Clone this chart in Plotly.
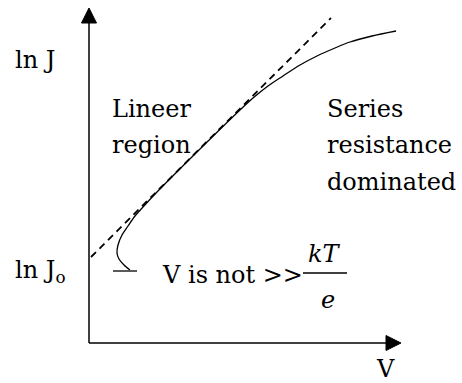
import plotly.graph_objects as go

# Measured J-V characteristic on a ln J vs V plot (arbitrary units)
v_curve = [0.41, 0.35, 0.30, 0.28, 0.29, 0.33, 0.39, 0.46, 0.54, 0.68, 1.11,
           1.51, 1.64, 1.79, 1.94, 2.11, 2.28, 2.46, 2.61, 2.83, 3.07]
lnj_curve = [0.73, 0.78, 0.84, 0.90, 0.98, 1.08, 1.17, 1.27, 1.36, 1.51, 1.94,
             2.33, 2.45, 2.57, 2.67, 2.78, 2.87, 2.95, 3.01, 3.07, 3.12]

# Ideal diode line, extrapolated to V = 0 (intercept ln J0)
v_fit = [0.02, 2.42]
lnj_fit = [0.86, 3.25]

# Short bar marking the low-voltage end of the curve
v_bar = [0.24, 0.48]
lnj_bar = [0.72, 0.72]

# Axis extents
v_max = 3.12
lnj_max = 3.35

FONT = "DejaVu Serif"
FS = 24

fig = go.Figure()
fig.add_trace(go.Scatter(x=v_fit, y=lnj_fit, mode="lines",
                         line=dict(color="black", width=1.8, dash="7px,5px"),
                         hoverinfo="skip"))
fig.add_trace(go.Scatter(x=v_curve, y=lnj_curve, mode="lines",
                         line=dict(color="black", width=1.3, shape="spline", smoothing=0.8),
                         hoverinfo="skip"))
fig.add_trace(go.Scatter(x=v_bar, y=lnj_bar, mode="lines",
                         line=dict(color="black", width=1.3), hoverinfo="skip"))

# Axes with filled arrowheads
head_len, head_half = 0.15, 0.075
shapes = [
    dict(type="line", x0=0, y0=0, x1=0, y1=lnj_max - head_len,
         line=dict(color="black", width=1.5)),
    dict(type="line", x0=0, y0=0, x1=v_max - head_len, y1=0,
         line=dict(color="black", width=1.5)),
    dict(type="path",
         path=f"M {-head_half},{lnj_max - head_len} L 0,{lnj_max} L {head_half},{lnj_max - head_len} Z",
         fillcolor="black", line=dict(color="black", width=1)),
    dict(type="path",
         path=f"M {v_max - head_len},{-head_half} L {v_max},0 L {v_max - head_len},{head_half} Z",
         fillcolor="black", line=dict(color="black", width=1)),
    # fraction bar of kT/e
    dict(type="line", x0=2.14, x1=2.58, y0=0.70, y1=0.70,
         line=dict(color="black", width=1.3)),
]
for s in shapes:
    s.update(xref="x", yref="y")

annotations = []


def label(text, x, y, xanchor="left"):
    annotations.append(dict(x=x, y=y, xref="x", yref="y", text=text,
                            showarrow=False, xanchor=xanchor, yanchor="middle",
                            font=dict(family=FONT, size=FS, color="black")))


label("ln J", -0.76, 2.83)
label("ln J<sub>o</sub>", -0.76, 0.72)
label("Lineer", 0.21, 2.34)
label("region", 0.21, 1.98)
label("Series", 2.36, 2.34)
label("resistance", 2.36, 1.98)
label("dominated", 2.36, 1.61)
label("V is not &gt;&gt;", 0.71, 0.68)
label("<i>kT</i>", 2.35, 0.89, "center")
label("<i>e</i>", 2.385, 0.43, "center")
label("V", 2.85, -0.26)

fig.update_layout(
    width=462, height=383,
    margin=dict(l=0, r=0, t=0, b=0),
    paper_bgcolor="white", plot_bgcolor="white",
    showlegend=False,
    font=dict(family=FONT),
    xaxis=dict(range=[-0.89, 3.73], visible=False, fixedrange=True),
    yaxis=dict(range=[-0.40, 3.43], visible=False, fixedrange=True),
    annotations=annotations,
    shapes=shapes,
)

fig.write_html("out.html")
